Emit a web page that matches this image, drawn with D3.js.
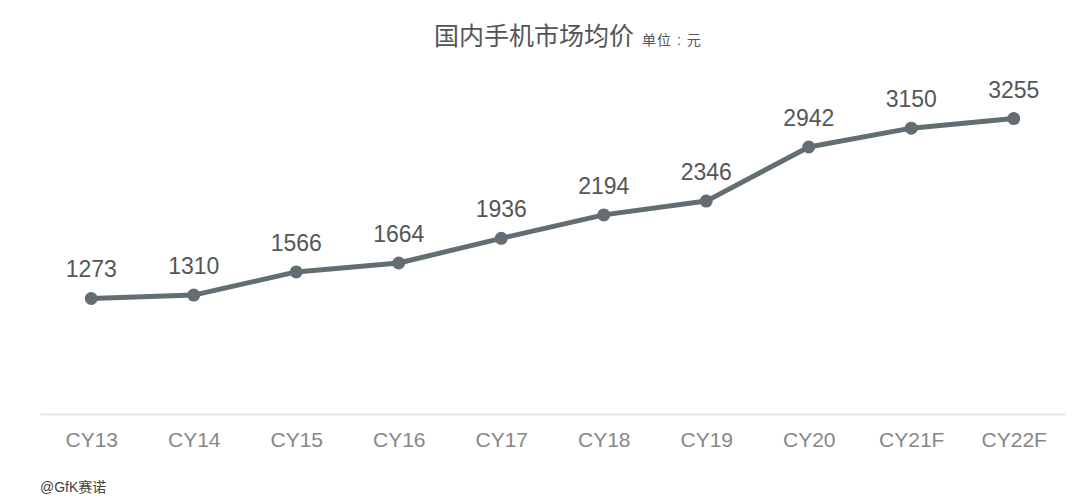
<!DOCTYPE html>
<html><head><meta charset="utf-8">
<script src="https://cdn.jsdelivr.net/npm/d3@7/dist/d3.min.js"></script>
<style>body{margin:0;background:#fff;}svg{display:block;}</style>
</head><body>
<svg id="c" width="1080" height="503"></svg>
<script>
const categories = ["CY13","CY14","CY15","CY16","CY17","CY18","CY19","CY20","CY21F","CY22F"];
const prices = [1273,1310,1566,1664,1936,2194,2346,2942,3150,3255];
const titleText = "国内手机市场均价";
const unitText = "单位 : 元";
const sourceText = "@GfK赛诺";

const svg = d3.select("#c");
const font = "'Liberation Sans', Arial, 'Noto Sans CJK SC', sans-serif";
const x = d3.scalePoint().domain(categories).range([40,1065]).padding(0.5);
const y = d3.scaleLinear().domain([0,4000]).range([414,51]);

// axis
const ax = svg.append("g").attr("transform","translate(0,414)")
  .call(d3.axisBottom(x).tickSize(0).tickPadding(18));
ax.select(".domain").attr("stroke","#e4e4e4").attr("stroke-width",2);
ax.selectAll("text").attr("font-family",font).attr("font-size",21).attr("fill","#848888");

// line
const line = d3.line().x((d,i)=>x(categories[i])).y(d=>y(d));
svg.append("path").datum(prices).attr("d",line).attr("fill","none")
  .attr("stroke","#636d72").attr("stroke-width",5).attr("stroke-linejoin","round");
svg.selectAll("circle.p").data(prices).join("circle").attr("class","p")
  .attr("cx",(d,i)=>x(categories[i])).attr("cy",d=>y(d)).attr("r",6.5).attr("fill","#636d72");
svg.selectAll("text.v").data(prices).join("text").attr("class","v")
  .attr("x",(d,i)=>x(categories[i])).attr("y",d=>y(d)-21)
  .attr("text-anchor","middle").attr("font-family",font).attr("font-size",23)
  .attr("fill","#545658").text(d=>d);

// title
const t = svg.append("text").attr("x",434).attr("y",45).attr("font-family",font);
t.append("tspan").attr("font-size",25).attr("fill","#555").text(titleText);
t.append("tspan").attr("dx",8).attr("font-size",14).attr("letter-spacing",1).attr("fill","#555").text(unitText);

svg.append("text").attr("x",40).attr("y",492).attr("font-family",font)
  .attr("font-size",14).attr("fill","#444").text(sourceText);
</script>
</body></html>
